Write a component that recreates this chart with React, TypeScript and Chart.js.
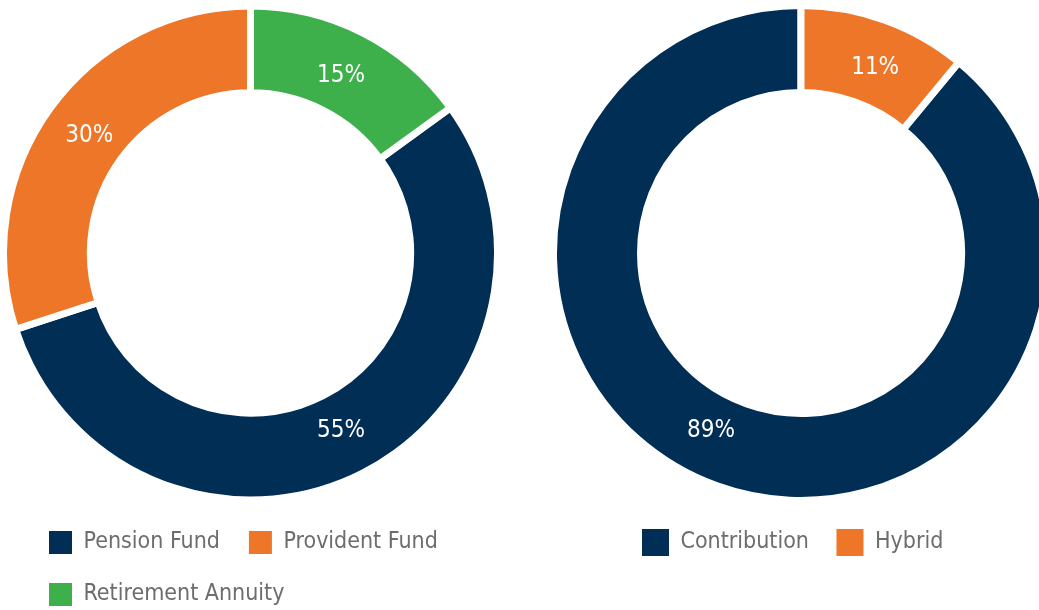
import React, { useEffect, useRef } from 'react';
import { Chart, registerables } from 'chart.js';

Chart.register(...registerables);

const leftCategories = ['Pension Fund', 'Provident Fund', 'Retirement Annuity'];
const leftValues = [55, 30, 15];
const leftColors = ['#002e55', '#ee7628', '#3db04b'];

const rightCategories = ['Contribution', 'Hybrid'];
const rightValues = [89, 11];
const rightColors = ['#002e55', '#ee7628'];

const FONT = "'Liberation Sans Narrow', 'DejaVu Sans Condensed', 'Roboto', sans-serif";

const labelPlugin = {
  id: 'pctLabels',
  afterDatasetsDraw(chart: any, _args: any, opts: any) {
    const meta = chart.getDatasetMeta(0);
    const ctx = chart.ctx;
    const data = chart.data.datasets[0].data as number[];
    ctx.save();
    ctx.font = `${opts.size}px ${FONT}`;
    ctx.fillStyle = '#ffffff';
    ctx.textAlign = 'center';
    ctx.textBaseline = 'middle';
    meta.data.forEach((arc: any, i: number) => {
      const p = arc.getProps(['x', 'y', 'startAngle', 'endAngle', 'innerRadius', 'outerRadius'], true);
      const shift = (((opts.angleShift || [])[i]) || 0) * Math.PI / 180;
      const a = (p.startAngle + p.endAngle) / 2 + shift;
      const r = p.innerRadius + (p.outerRadius - p.innerRadius) * opts.radiusFrac;
      ctx.fillText(`${data[i]}%`, p.x + r * Math.cos(a), p.y + r * Math.sin(a));
    });
    ctx.restore();
  },
};

const legendPlace = {
  id: 'legendPlace',
  afterLayout(chart: any, _args: any, opts: any) {
    const lg = chart.legend;
    if (!lg) return;
    const dx = opts.left - lg.left;
    const dy = opts.top - lg.top;
    lg.left += dx;
    lg.right += dx;
    lg.top += dy;
    lg.bottom += dy;
  },
};

function makeConfig(
  labels: string[],
  values: number[],
  colors: string[],
  o: { padBottom: number; fontSize: number; box: number; pad: number; legLeft: number; legTop: number; angleShift: number[] }
): any {
  const total = values.reduce((a, b) => a + b, 0);
  const rotation = (values[values.length - 1] / total) * 360;
  return {
    type: 'doughnut',
    data: {
      labels,
      datasets: [
        {
          data: values,
          backgroundColor: colors,
          borderColor: '#ffffff',
          borderWidth: 7,
          hoverBorderWidth: 7,
          hoverBackgroundColor: colors,
        },
      ],
    },
    plugins: [labelPlugin, legendPlace],
    options: {
      responsive: false,
      animation: false,
      events: [],
      devicePixelRatio: 1,
      rotation,
      cutout: '64.85%',
      layout: { padding: { top: 2, bottom: o.padBottom, left: 0, right: 0 } },
      plugins: {
        tooltip: { enabled: false },
        legend: {
          display: true,
          position: 'bottom',
          align: 'start',
          labels: {
            boxWidth: o.box,
            boxHeight: o.box,
            padding: o.pad,
            color: '#6d6d6d',
            font: { family: FONT, size: o.fontSize },
            generateLabels: (chart: any) =>
              (Chart as any).overrides.doughnut.plugins.legend.labels
                .generateLabels(chart)
                .map((l: any) => ({ ...l, lineWidth: 0, strokeStyle: 'rgba(0,0,0,0)' })),
          },
        },
        pctLabels: { size: 24, radiusFrac: 0.45, angleShift: o.angleShift },
        legendPlace: { left: o.legLeft, top: o.legTop },
      },
    },
  };
}

function DoughnutCanvas(props: { config: any; style: React.CSSProperties; width: number; height: number }) {
  const ref = useRef<HTMLCanvasElement | null>(null);
  useEffect(() => {
    if (!ref.current) return;
    const chart = new Chart(ref.current, props.config);
    return () => chart.destroy();
  }, []);
  return <canvas ref={ref} width={props.width} height={props.height} style={{ position: 'absolute', ...props.style }} />;
}

export default function App() {
  const leftConfig = makeConfig(leftCategories, leftValues, leftColors, {
    padBottom: 2,
    fontSize: 23,
    box: 23,
    pad: 29,
    legLeft: 20,
    legTop: 502,
    angleShift: [0, 0, 0],
  });
  const rightConfig = makeConfig(rightCategories, rightValues, rightColors, {
    padBottom: 51.5,
    fontSize: 23,
    box: 27,
    pad: 27.5,
    legLeft: 64.5,
    legTop: 501.5,
    angleShift: [7, 2],
  });
  return (
    <div
      style={{
        position: 'fixed',
        left: 0,
        top: 0,
        width: 1039,
        height: 610,
        overflow: 'hidden',
        background: '#ffffff',
      }}
    >
      <DoughnutCanvas config={leftConfig} width={501} height={620} style={{ left: 0, top: 0, width: 501, height: 620 }} />
      <DoughnutCanvas config={rightConfig} width={502} height={620} style={{ left: 550, top: 0, width: 502, height: 620 }} />
    </div>
  );
}
